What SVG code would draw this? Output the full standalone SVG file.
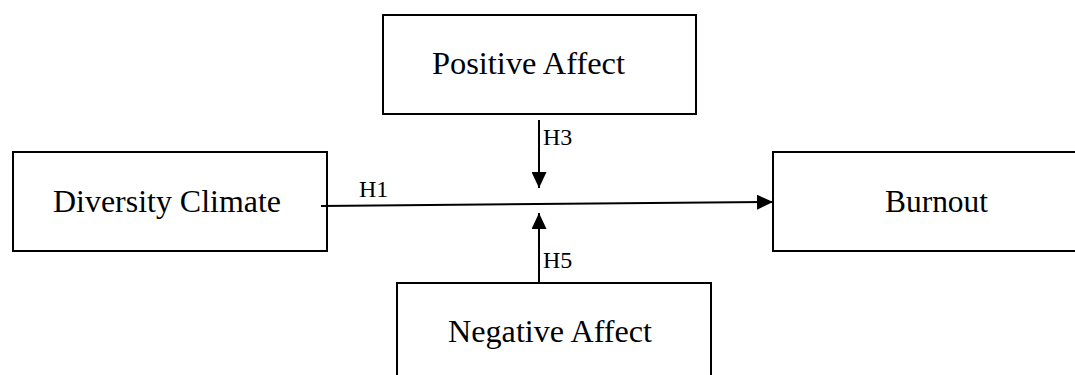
<svg xmlns="http://www.w3.org/2000/svg" width="1075" height="375" viewBox="0 0 1075 375">
<style>
.box{fill:#fff;stroke:#000;stroke-width:2}
.t{font-family:"Liberation Serif","Times New Roman",serif;font-size:31px;fill:#000}
.h{font-family:"Liberation Serif","Times New Roman",serif;font-size:24px;fill:#000}
.ln{stroke:#000;stroke-width:2;fill:none}
</style>
<defs>
<marker id="ah" markerWidth="16" markerHeight="15" refX="16" refY="7.5" orient="auto" markerUnits="userSpaceOnUse">
<path d="M0,0 L16,7.5 L0,15 Z" fill="#000"/>
</marker>
</defs>
<rect width="1075" height="375" fill="#fff"/>
<g id="positive-affect">
<rect class="box" x="383" y="15" width="313" height="99"/>
<text class="t" x="432" y="74" textLength="193" lengthAdjust="spacingAndGlyphs">Positive Affect</text>
</g>
<g id="diversity-climate">
<rect class="box" x="13" y="152" width="314" height="99"/>
<text class="t" x="53" y="212" textLength="228" lengthAdjust="spacingAndGlyphs">Diversity Climate</text>
</g>
<g id="burnout">
<rect class="box" x="773" y="152" width="310" height="99"/>
<text class="t" x="885" y="212" textLength="103" lengthAdjust="spacingAndGlyphs">Burnout</text>
</g>
<g id="negative-affect">
<rect class="box" x="397" y="283" width="314" height="100"/>
<text class="t" x="448" y="342" textLength="204" lengthAdjust="spacingAndGlyphs">Negative Affect</text>
</g>
<g id="connectors">
<line class="ln" x1="321" y1="206" x2="773" y2="202" marker-end="url(#ah)"/>
<line class="ln" x1="539" y1="120" x2="539" y2="188" marker-end="url(#ah)"/>
<line class="ln" x1="539" y1="283" x2="539" y2="213" marker-end="url(#ah)"/>
<text class="h" x="359" y="197">H1</text>
<text class="h" x="543" y="145">H3</text>
<text class="h" x="543" y="268">H5</text>
</g>
</svg>
